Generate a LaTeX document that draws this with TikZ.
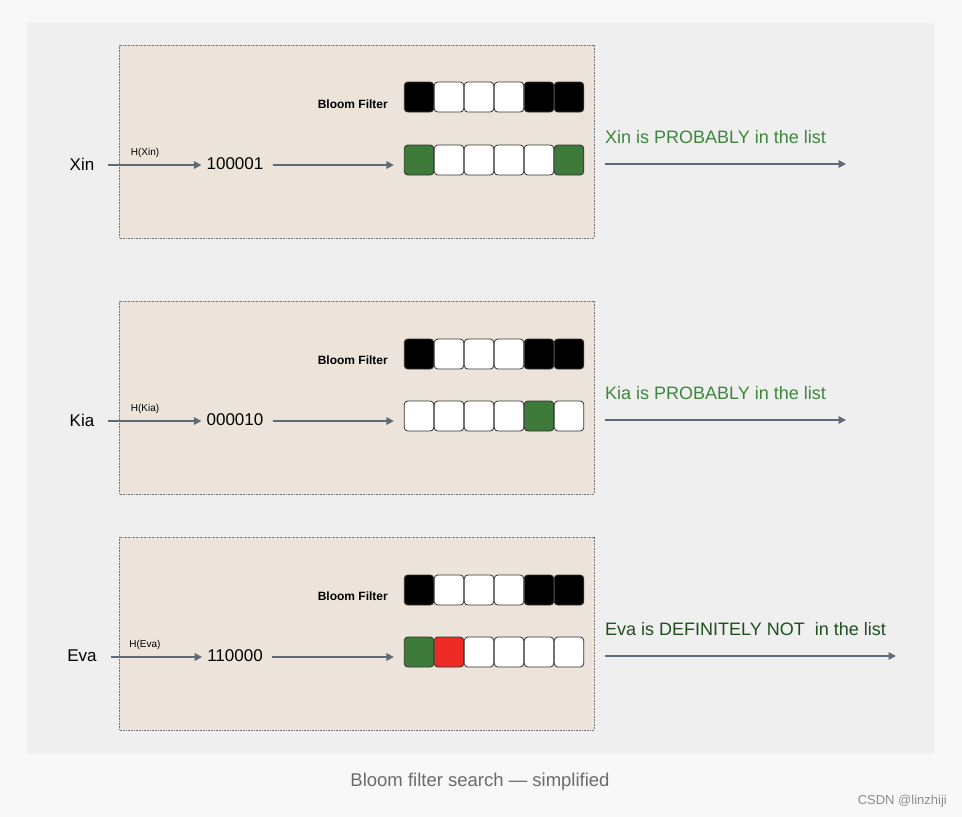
\documentclass[tikz,border=0pt]{standalone}
\usepackage{fontspec}
\setmainfont{Liberation Sans}
\usetikzlibrary{arrows.meta}
\definecolor{pagebg}{HTML}{F8F8F8}
\definecolor{panelbg}{HTML}{EFEFEF}
\definecolor{boxbg}{HTML}{ECE4DA}
\definecolor{arrcol}{HTML}{5F6A78}
\definecolor{cellgreen}{HTML}{3E7A3A}
\definecolor{cellred}{HTML}{EE2A24}
\definecolor{txtgreen}{HTML}{3F853F}
\definecolor{txtdark}{HTML}{1F4F1F}
\definecolor{captcol}{HTML}{6B6B6B}
\begin{document}
\begin{tikzpicture}[x=1pt,y=-1pt,
  cell/.style={draw=black!80, rounded corners=3.5pt, minimum width=29.5pt, minimum height=30pt, inner sep=0pt, line width=0.8pt, fill=white},
  onecell/.style={cell, fill=black},
  greencell/.style={cell, fill=cellgreen},
  redcell/.style={cell, fill=cellred},
  arrowline/.style={draw=arrcol, line width=1.8pt, -{Triangle[length=7.5pt,width=7.5pt]}},
  panelbox/.style={fill=boxbg, draw=black!55, line width=0.9pt, dash pattern=on 0.8pt off 0.8pt},
  namelbl/.style={font=\fontsize{17}{20}\selectfont, inner sep=2pt},
  hashlbl/.style={font=\fontsize{17}{20}\selectfont, inner sep=2pt},
  fnlbl/.style={font=\fontsize{10}{12}\selectfont, inner sep=0pt},
  bflbl/.style={font=\bfseries\fontsize{12}{14}\selectfont, inner sep=0pt, anchor=east},
  reslbl/.style={font=\fontsize{18}{21}\selectfont, inner sep=0pt, anchor=west},
]
\useasboundingbox (0,0) rectangle (962,817);
\fill[pagebg] (0,0) rectangle (962,817);
\fill[panelbg] (27,23) rectangle (934,754);

% ---------- panel 1 : Xin ----------
\draw[panelbox] (119,45) rectangle (594,238);
\node[bflbl] (bf1) at (388,104) {Bloom Filter};
\node[onecell]   (t1a) at (419,97) {};
\node[cell]      (t1b) at (449,97) {};
\node[cell]      (t1c) at (479,97) {};
\node[cell]      (t1d) at (509,97) {};
\node[onecell]   (t1e) at (539,97) {};
\node[onecell]   (t1f) at (569,97) {};
\node[greencell] (b1a) at (419,160) {};
\node[cell]      (b1b) at (449,160) {};
\node[cell]      (b1c) at (479,160) {};
\node[cell]      (b1d) at (509,160) {};
\node[cell]      (b1e) at (539,160) {};
\node[greencell] (b1f) at (569,160) {};
\node[namelbl] (n1) at (82,164) {Xin};
\node[hashlbl] (h1) at (235,164) {100001};
\node[fnlbl] (f1) at (145,153) {H(Xin)};
\draw[arrowline, shorten <=12pt, shorten >=3pt] ([yshift=-1pt]n1.east) -- ([yshift=-1pt]h1.west);
\draw[arrowline, shorten <=7pt] ([yshift=-1pt]h1.east) -- ([yshift=-1pt,xshift=-10pt]h1.east -| b1a.west);
\node[reslbl, text=txtgreen] (r1) at (605,137) {Xin is PROBABLY in the list};
\coordinate (s1) at (605,164);
\coordinate (e1) at (846,164);
\draw[arrowline] (s1) -- (e1);

% ---------- panel 2 : Kia ----------
\draw[panelbox] (119,301) rectangle (594,494);
\node[bflbl] (bf2) at (388,360) {Bloom Filter};
\node[onecell]   (t2a) at (419,354) {};
\node[cell]      (t2b) at (449,354) {};
\node[cell]      (t2c) at (479,354) {};
\node[cell]      (t2d) at (509,354) {};
\node[onecell]   (t2e) at (539,354) {};
\node[onecell]   (t2f) at (569,354) {};
\node[cell]      (b2a) at (419,416) {};
\node[cell]      (b2b) at (449,416) {};
\node[cell]      (b2c) at (479,416) {};
\node[cell]      (b2d) at (509,416) {};
\node[greencell] (b2e) at (539,416) {};
\node[cell]      (b2f) at (569,416) {};
\node[namelbl] (n2) at (82,420) {Kia};
\node[hashlbl] (h2) at (235,420) {000010};
\node[fnlbl] (f2) at (145,409) {H(Kia)};
\draw[arrowline, shorten <=12pt, shorten >=3pt] ([yshift=-1pt]n2.east) -- ([yshift=-1pt]h2.west);
\draw[arrowline, shorten <=7pt] ([yshift=-1pt]h2.east) -- ([yshift=-1pt,xshift=-10pt]h2.east -| b2a.west);
\node[reslbl, text=txtgreen] (r2) at (605,393) {Kia is PROBABLY in the list};
\coordinate (s2) at (605,420);
\coordinate (e2) at (846,420);
\draw[arrowline] (s2) -- (e2);

% ---------- panel 3 : Eva ----------
\draw[panelbox] (119,537) rectangle (594,730);
\node[bflbl] (bf3) at (388,596) {Bloom Filter};
\node[onecell]   (t3a) at (419,590) {};
\node[cell]      (t3b) at (449,590) {};
\node[cell]      (t3c) at (479,590) {};
\node[cell]      (t3d) at (509,590) {};
\node[onecell]   (t3e) at (539,590) {};
\node[onecell]   (t3f) at (569,590) {};
\node[greencell] (b3a) at (419,652) {};
\node[redcell]   (b3b) at (449,652) {};
\node[cell]      (b3c) at (479,652) {};
\node[cell]      (b3d) at (509,652) {};
\node[cell]      (b3e) at (539,652) {};
\node[cell]      (b3f) at (569,652) {};
\node[namelbl] (n3) at (82,656) {Eva};
\node[hashlbl] (h3) at (235,656) {110000};
\node[fnlbl] (f3) at (145,645) {H(Eva)};
\draw[arrowline, shorten <=12pt, shorten >=3pt] ([yshift=-1pt]n3.east) -- ([yshift=-1pt]h3.west);
\draw[arrowline, shorten <=7pt] ([yshift=-1pt]h3.east) -- ([yshift=-1pt,xshift=-10pt]h3.east -| b3a.west);
\node[reslbl, text=txtdark] (r3) at (605,629) {Eva is DEFINITELY NOT\ \ in the list};
\coordinate (s3) at (605,656);
\coordinate (e3) at (896,656);
\draw[arrowline] (s3) -- (e3);

% ---------- captions ----------
\node[font=\fontsize{18.5}{22}\selectfont, text=captcol] (cap) at (480,782) {Bloom filter search — simplified};
\node[font=\fontsize{13}{15}\selectfont, text=black!45, anchor=east, inner sep=0pt] (csdn) at (947,801) {CSDN @linzhiji};
\end{tikzpicture}
\end{document}
